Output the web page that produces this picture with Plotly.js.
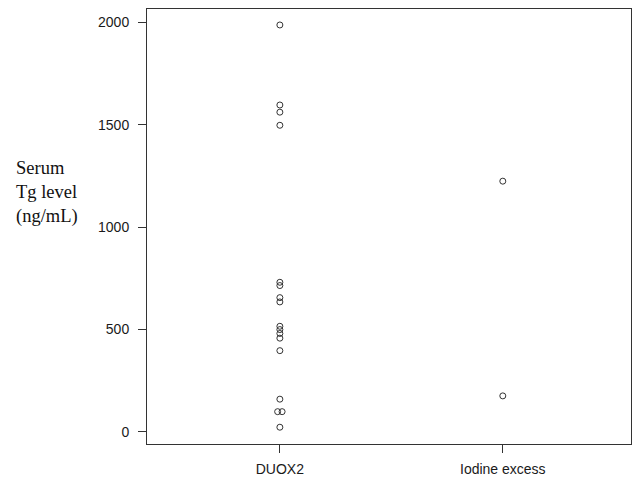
<!DOCTYPE html>
<html>
<head>
<meta charset="utf-8">
<script src="https://cdn.plot.ly/plotly-3.0.1.min.js"></script>
<style>html,body{margin:0;padding:0;background:#fff}#chart{width:634px;height:479px}</style>
</head>
<body>
<div id="chart"></div>
<script>
var categories = ["DUOX2", "Iodine excess"];
var categoryPos = [1, 2];
// DUOX2 group values (ng/mL) and x-positions (slight side-by-side offset for two overlapping points)
var duox2X = [1, 1, 1, 1, 1, 1, 1, 1, 1, 1, 1, 1, 1, 1, 0.99, 1.01, 1];
var duox2Y = [1988, 1597, 1562, 1498, 731, 715, 656, 635, 516, 500, 481, 458, 397, 160, 99, 99, 23];
var iodineX = [2, 2];
var iodineY = [1225, 176];
var yTicks = [0, 500, 1000, 1500, 2000];

var markerStyle = {symbol: "circle-open", size: 6, color: "#333", line: {width: 1, color: "#333"}};

var traces = [
  {x: duox2X, y: duox2Y, type: "scatter", mode: "markers", marker: markerStyle, showlegend: false, hoverinfo: "y"},
  {x: iodineX, y: iodineY, type: "scatter", mode: "markers", marker: markerStyle, showlegend: false, hoverinfo: "y"}
];

var layout = {
  width: 634, height: 479,
  margin: {l: 147, r: 3, t: 9, b: 35, pad: 0},
  paper_bgcolor: "#fff", plot_bgcolor: "#fff",
  font: {family: "Liberation Sans, Arial, sans-serif", size: 14, color: "#1a1a1a"},
  xaxis: {
    range: [0.404, 2.575], tickvals: categoryPos, ticktext: categories,
    showgrid: false, zeroline: false, showline: true, mirror: true,
    linecolor: "#333", linewidth: 1, ticks: "outside", ticklen: 8, tickcolor: "#333",
    ticklabelstandoff: 4
  },
  yaxis: {
    range: [-59, 2066], tickvals: yTicks,
    showgrid: false, zeroline: false, showline: true, mirror: true,
    linecolor: "#333", linewidth: 1, ticks: "outside", ticklen: 8, tickcolor: "#333",
    ticklabelstandoff: 6
  },
  annotations: [{
    text: "Serum<br>Tg level<br>(ng/mL)", xref: "paper", yref: "paper",
    x: -0.274, y: 0.578, xanchor: "left", yanchor: "middle", align: "left", showarrow: false,
    font: {family: "Liberation Serif, Times New Roman, serif", size: 18.5, color: "#111"}
  }]
};

Plotly.newPlot("chart", traces, layout, {displayModeBar: false, staticPlot: true});
</script>
</body>
</html>
